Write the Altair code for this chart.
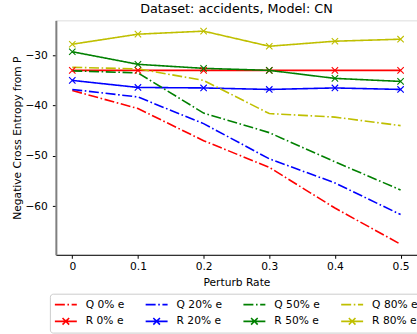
import altair as alt
import pandas as pd

rates = [0, 0.1, 0.2, 0.3, 0.4, 0.5]

q0 = [-37.0, -40.6, -47.0, -52.3, -60.4, -67.6]
r0 = [-33.0, -33.0, -33.0, -33.0, -33.0, -33.0]
q20 = [-36.8, -38.3, -43.6, -50.6, -55.4, -61.7]
r20 = [-35.0, -36.4, -36.5, -36.8, -36.5, -36.8]
q50 = [-33.1, -33.5, -41.5, -45.4, -51.2, -56.8]
r50 = [-29.3, -31.8, -32.6, -33.0, -34.6, -35.2]
q80 = [-32.4, -32.7, -35.0, -41.6, -42.3, -44.0]
r80 = [-27.8, -25.8, -25.2, -28.2, -27.2, -26.8]

series_order = ["Q 0% e", "R 0% e", "Q 20% e", "R 20% e",
                "Q 50% e", "R 50% e", "Q 80% e", "R 80% e"]
series_values = [q0, r0, q20, r20, q50, r50, q80, r80]

colors = ["#ff0000", "#ff0000", "#0000ff", "#0000ff",
          "#008000", "#008000", "#bfbf00", "#bfbf00"]
dashdot = [10, 2.6, 1.6, 2.6]
solid = [1, 0]
dashes = [dashdot, solid] * 4
q_symbol = "M-1,0L1,0"
r_symbol = "M-1,0L1,0M-0.3,-0.3L0.3,0.3M-0.3,0.3L0.3,-0.3"
shapes = [q_symbol, r_symbol] * 4
x_marker = "M-1,-1L1,1M-1,1L1,-1"

rows = []
for i, (name, vals) in enumerate(zip(series_order, series_values)):
    for r, v in zip(rates, vals):
        rows.append({"series": name, "rate": r, "value": v, "kind": name[0], "ord": i})
df = pd.DataFrame(rows)

FONT = "DejaVu Sans"

x_enc = alt.X(
    "rate:Q",
    scale=alt.Scale(domain=[-0.025, 0.525], nice=False, zero=False),
    axis=alt.Axis(
        values=rates,
        title="Perturb Rate",
        labelExpr="datum.value == 0 ? '0' : format(datum.value, '.1f')",
        grid=False,
        tickSize=3.5,
        tickColor="black",
        domainColor="black",
        labelFont=FONT,
        labelFontSize=10.7,
        labelColor="black",
        labelPadding=3,
        titleFont=FONT,
        titleFontSize=10.7,
        titleFontWeight="normal",
        titleColor="black",
        titlePadding=7,
    ),
)
y_enc = alt.Y(
    "value:Q",
    scale=alt.Scale(domain=[-69.7, -23.05], nice=False, zero=False),
    axis=alt.Axis(
        values=[-60, -50, -40, -30],
        title="Negative Cross Entropy from P",
        grid=False,
        tickSize=3.5,
        tickColor="black",
        domainColor="#808080",
        domainWidth=2,
        labelFont=FONT,
        labelFontSize=10.7,
        labelColor="black",
        labelPadding=5,
        titleFont=FONT,
        titleFontSize=10.7,
        titleFontWeight="normal",
        titleColor="black",
        titlePadding=2,
    ),
)

legend = alt.Legend(
    title=None,
    orient="none",
    legendX=-6,
    legendY=274,
    columns=4,
    symbolSize=484,
    symbolStrokeWidth=1.6,
    symbolOffset=0,
    symbolOpacity=1,
    labelOffset=8,
    clipHeight=14,
    rowPadding=2.7,
    columnPadding=20,
    padding=4,
    strokeColor="#cccccc",
    cornerRadius=3,
    fillColor="white",
    labelFont=FONT,
    labelFontSize=10.7,
    labelColor="black",
)

color_scale = alt.Scale(domain=series_order, range=colors)
dash_scale = alt.Scale(domain=series_order, range=dashes)
shape_scale = alt.Scale(domain=series_order, range=shapes)

base = alt.Chart(df)

legend_layer = base.transform_filter("false").mark_point(
    filled=False, opacity=1, strokeWidth=1.6
).encode(
    x=x_enc,
    y=y_enc,
    color=alt.Color("series:N", scale=color_scale, legend=legend),
    strokeDash=alt.StrokeDash("series:N", scale=dash_scale, legend=legend),
    shape=alt.Shape("series:N", scale=shape_scale, legend=legend),
)

lines = base.mark_line(strokeWidth=1.6, clip=True).encode(
    x=x_enc,
    y=y_enc,
    color=alt.Color("series:N", scale=color_scale, legend=legend),
    strokeDash=alt.StrokeDash("series:N", scale=dash_scale, legend=legend),
    order="rate:Q",
)

markers = base.transform_filter("datum.kind == 'R'").mark_point(
    shape=x_marker, size=41, filled=False, strokeWidth=1.1, opacity=1, clip=True
).encode(
    x=x_enc,
    y=y_enc,
    color=alt.Color("series:N", scale=color_scale, legend=legend),
)

chart = alt.layer(legend_layer, lines, markers).properties(
    width=362,
    height=235,
    autosize=alt.AutoSizeParams(type="none"),
    padding={"left": 56, "top": 20, "right": 0, "bottom": 79},
    title=alt.TitleParams(
        "Dataset: accidents, Model: CN",
        font=FONT,
        fontSize=12.8,
        fontWeight="normal",
        color="black",
        anchor="middle",
        offset=6,
        dy=11,
        baseline="alphabetic",
    ),
).configure_view(stroke="#222222", strokeWidth=1.2).configure(background="white")

chart.save("out.html", embed_options={"renderer": "svg", "actions": False})
